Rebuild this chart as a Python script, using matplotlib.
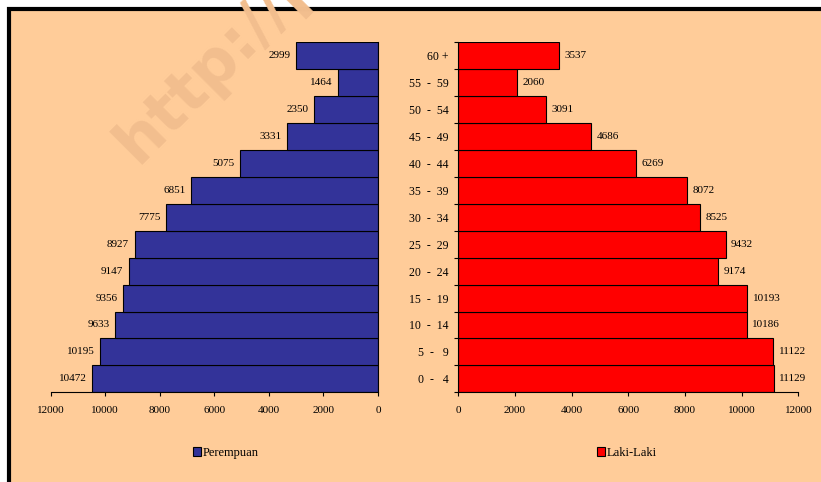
import matplotlib
matplotlib.use("Agg")
import matplotlib.pyplot as plt
from matplotlib.patches import Rectangle
from matplotlib.ticker import FixedLocator

plt.rcParams['font.family'] = ['Liberation Serif', 'DejaVu Serif']

# age groups, bottom to top
ages = ["0  -   4", "5  -   9", "10  -  14", "15  -  19", "20  -  24", "25  -  29",
        "30  -  34", "35  -  39", "40  -  44", "45  -  49", "50  -  54", "55  -  59", "60 +"]
perempuan = [10472, 10195, 9633, 9356, 9147, 8927, 7775, 6851, 5075, 3331, 2350, 1464, 2999]
laki = [11129, 11122, 10186, 10193, 9174, 9432, 8525, 8072, 6269, 4686, 3091, 2060, 3537]
xticks = [0, 2000, 4000, 6000, 8000, 10000, 12000]

peach = '#FFCC99'
W, H = 821, 482
fig = plt.figure(figsize=(W/100, H/100), dpi=100, facecolor='white')

# peach panel with thick black frame (cut off at right and bottom)
frame = Rectangle((8.5/W, -0.2), 1.5, 1.2 - 9/H, transform=fig.transFigure,
                  facecolor=peach, edgecolor='black', linewidth=3, zorder=0)
fig.patches.append(frame)

# watermark
fig.text(138/W, 1 - 165/H, "http://p", fontsize=45, fontweight='bold',
         family='DejaVu Sans', color='#F2BE8E', rotation=45,
         rotation_mode='anchor', ha='left', va='baseline', zorder=0.5)

y = list(range(len(ages)))

axL = fig.add_axes([50.7/W, 1 - 392.3/H, (378 - 50.7)/W, 350/H])
axR = fig.add_axes([458.3/W, 1 - 392.3/H, 340/W, 350/H])

for ax in (axL, axR):
    ax.set_zorder(2)
    ax.set_facecolor('none')
    ax.set_ylim(-0.5, len(ages) - 0.5)
    ax.set_xticks(xticks)
    ax.set_xticklabels([str(v) for v in xticks])
    ax.tick_params(axis='x', length=3, width=0.8, pad=7, labelsize=8)
    ax.spines['top'].set_visible(False)

bL = axL.barh(y, perempuan, height=1.0, color='#333399', edgecolor='black', linewidth=0.8,
              label='Perempuan')
axL.set_xlim(12000, 0)
axL.spines['left'].set_visible(False)
axL.set_yticks([])
for yi, v in zip(y, perempuan):
    axL.annotate(str(v), (v, yi), xytext=(-4, 0), textcoords='offset points',
                 ha='right', va='center', fontsize=8)

bR = axR.barh(y, laki, height=1.0, color='#FF0000', edgecolor='black', linewidth=0.8,
              label='Laki-Laki')
axR.set_xlim(0, 12000)
axR.spines['right'].set_visible(False)
axR.set_yticks(y)
axR.set_yticklabels(ages)
axR.yaxis.set_minor_locator(FixedLocator([i - 0.5 for i in range(len(ages) + 1)]))
axR.tick_params(axis='y', which='major', length=0, pad=7, labelsize=8.5)
axR.tick_params(axis='y', which='minor', length=3, width=0.8)
for yi, v in zip(y, laki):
    axR.annotate(str(v), (v, yi), xytext=(4, 0), textcoords='offset points',
                 ha='left', va='center', fontsize=8)

for ax, h, x0 in ((axL, bL, 193), (axR, bR, 597)):
    ax.legend(handles=[h], loc='center left', bbox_to_anchor=(x0/W, 1 - 453/H),
              bbox_transform=fig.transFigure, frameon=False, fontsize=9,
              handlelength=0.6, handleheight=0.7, handletextpad=0.2,
              borderpad=0, borderaxespad=0)

fig.savefig('out.png', dpi=100, facecolor=fig.get_facecolor())
